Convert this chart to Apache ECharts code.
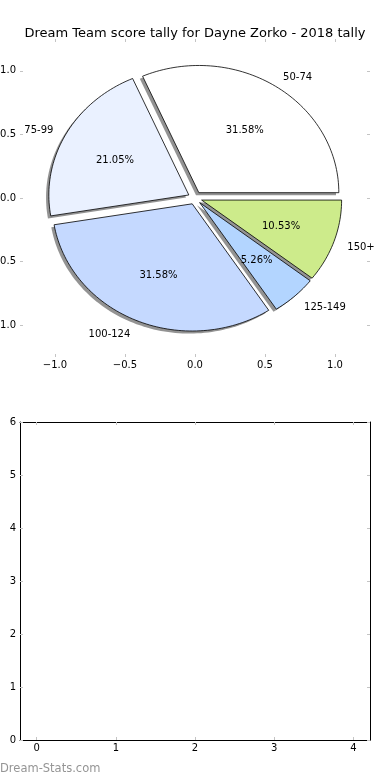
<!DOCTYPE html>
<html>
<head>
<meta charset="utf-8">
<script src="https://cdn.jsdelivr.net/npm/echarts@6/dist/echarts.min.js"></script>
<style>
html,body{margin:0;padding:0;background:#fff;}
#main{width:390px;height:780px;}
</style>
</head>
<body>
<div id="main"></div>
<script>
// ---- data ----
const titleText = 'Dream Team score tally for Dayne Zorko - 2018 tally';
const categories = ['50-74', '75-99', '100-124', '125-149', '150+'];
const counts = [6, 4, 6, 1, 2];
const pieTicks = [-1.0, -0.5, 0.0, 0.5, 1.0];
const emptyXTicks = [0, 1, 2, 3, 4];
const watermark = 'Dream-Stats.com';

// ---- style ----
const sliceColors = ['#ffffff', '#eaf1ff', '#c5d9ff', '#b3d5ff', '#cdeb8b'];
const explodeDist = 0.05;
const shadowOffset = [-0.02, -0.02];
const FONT = 'DejaVu Sans';
const tickGray = '#c4c4c4';
const textNudge = 2;

const total = counts.reduce((a, b) => a + b, 0);
const cum = [0];
counts.forEach((c, i) => cum.push(cum[i] + c));

function fmtTick(v) {
  const s = Number(v).toFixed(1);
  return s.replace('-', '\u2212');
}

function wedgeGeom(i) {
  const a0 = cum[i] / total * 2 * Math.PI;
  const a1 = cum[i + 1] / total * 2 * Math.PI;
  const mid = (a0 + a1) / 2;
  const cx = explodeDist * Math.cos(mid);
  const cy = explodeDist * Math.sin(mid);
  return { a0, a1, mid, cx, cy };
}

function wedgePoints(i, ox, oy, api) {
  const g = wedgeGeom(i);
  const cx = g.cx + ox, cy = g.cy + oy;
  const pts = [api.coord([cx, cy])];
  const n = Math.max(4, Math.ceil((g.a1 - g.a0) / (2 * Math.PI) * 240));
  for (let k = 0; k <= n; k++) {
    const a = g.a0 + (g.a1 - g.a0) * k / n;
    pts.push(api.coord([cx + Math.cos(a), cy + Math.sin(a)]));
  }
  return pts;
}

const pieData = categories.map((c, i) => [i, counts[i]]);

const chart = echarts.init(document.getElementById('main'), null, { renderer: 'canvas' });

function hiddenLine() {
  return { show: false, onZero: false };
}
function tick(vals) {
  const t = { show: true, inside: true, length: 3, lineStyle: { color: tickGray, width: 1 } };
  if (vals) t.customValues = vals;
  return t;
}
const frameLine = { show: true, onZero: false, lineStyle: { color: '#000', width: 1 } };
const labelFont = { fontFamily: FONT, fontSize: 10, color: '#000' };

const option = {
  animation: false,
  backgroundColor: '#ffffff',
  title: {
    text: titleText,
    left: 'center',
    top: 22,
    textStyle: { fontFamily: FONT, fontSize: 13, fontWeight: 'normal', color: '#000' }
  },
  grid: [
    { left: 20, right: 20, top: 39, height: 318, containLabel: false, outerBoundsMode: 'none' },
    { left: 20, right: 20, top: 422, bottom: 40, containLabel: false, outerBoundsMode: 'none' }
  ],
  xAxis: [
    {
      type: 'value', gridIndex: 0, position: 'bottom', min: -1.25, max: 1.25,
      axisLine: hiddenLine(), splitLine: { show: false }, axisTick: tick(pieTicks),
      axisLabel: Object.assign({ show: true, customValues: pieTicks, margin: 3, formatter: fmtTick }, labelFont)
    },
    {
      type: 'value', gridIndex: 0, position: 'top', min: -1.25, max: 1.25,
      axisLine: hiddenLine(), splitLine: { show: false }, axisTick: tick(pieTicks),
      axisLabel: { show: false }
    },
    {
      type: 'value', gridIndex: 1, position: 'bottom', min: -0.21, max: 4.21,
      axisLine: frameLine, splitLine: { show: false }, axisTick: tick(emptyXTicks),
      axisLabel: Object.assign({ show: true, customValues: emptyXTicks, margin: 3 }, labelFont)
    },
    {
      type: 'value', gridIndex: 1, position: 'top', min: -0.21, max: 4.21,
      axisLine: frameLine, splitLine: { show: false }, axisTick: tick(emptyXTicks),
      axisLabel: { show: false }
    }
  ],
  yAxis: [
    {
      type: 'value', gridIndex: 0, position: 'left', min: -1.25, max: 1.25,
      axisLine: hiddenLine(), splitLine: { show: false }, axisTick: tick(pieTicks),
      axisLabel: Object.assign({ show: true, customValues: pieTicks, margin: 4, formatter: fmtTick }, labelFont)
    },
    {
      type: 'value', gridIndex: 0, position: 'right', min: -1.25, max: 1.25,
      axisLine: hiddenLine(), splitLine: { show: false }, axisTick: tick(pieTicks),
      axisLabel: { show: false }
    },
    {
      type: 'value', gridIndex: 1, position: 'left', min: 0, max: 6, interval: 1,
      axisLine: frameLine, splitLine: { show: false }, axisTick: tick(),
      axisLabel: Object.assign({ show: true, margin: 4 }, labelFont)
    },
    {
      type: 'value', gridIndex: 1, position: 'right', min: 0, max: 6, interval: 1,
      axisLine: frameLine, splitLine: { show: false }, axisTick: tick(),
      axisLabel: { show: false }
    }
  ],
  series: [
    {
      type: 'custom',
      name: 'shadow',
      xAxisIndex: 0, yAxisIndex: 0,
      clip: false,
      z: 1,
      data: pieData,
      renderItem: function (params, api) {
        const i = api.value(0);
        return {
          type: 'polygon',
          shape: { points: wedgePoints(i, shadowOffset[0], shadowOffset[1], api) },
          style: { fill: 'rgba(40,40,40,0.5)', stroke: null }
        };
      }
    },
    {
      type: 'custom',
      name: 'wedges',
      xAxisIndex: 0, yAxisIndex: 0,
      clip: false,
      z: 2,
      data: pieData,
      renderItem: function (params, api) {
        const i = api.value(0);
        return {
          type: 'polygon',
          shape: { points: wedgePoints(i, 0, 0, api) },
          style: { fill: sliceColors[i], stroke: '#000', lineWidth: 0.8, lineJoin: 'miter' }
        };
      }
    },
    {
      type: 'custom',
      name: 'labels',
      xAxisIndex: 0, yAxisIndex: 0,
      clip: false,
      z: 3,
      data: pieData,
      renderItem: function (params, api) {
        const i = api.value(0);
        const g = wedgeGeom(i);
        const lx = g.cx + 1.1 * Math.cos(g.mid);
        const ly = g.cy + 1.1 * Math.sin(g.mid);
        const px = g.cx + 0.6 * Math.cos(g.mid);
        const py = g.cy + 0.6 * Math.sin(g.mid);
        const lp = api.coord([lx, ly]);
        const pp = api.coord([px, py]);
        const pct = (api.value(1) / total * 100).toFixed(2) + '%';
        return {
          type: 'group',
          children: [
            {
              type: 'text', x: lp[0], y: lp[1] + textNudge,
              style: { text: categories[i], fill: '#000', font: '10px "' + FONT + '"',
                align: lx > 0 ? 'left' : 'right', verticalAlign: 'middle' }
            },
            {
              type: 'text', x: pp[0], y: pp[1] + textNudge,
              style: { text: pct, fill: '#000', font: '10px "' + FONT + '"',
                align: 'center', verticalAlign: 'middle' }
            }
          ]
        };
      }
    }
  ],
  graphic: [
    {
      type: 'text', left: 0, top: 763,
      style: { text: watermark, fill: '#959595', font: '11.5px "' + FONT + '"' }
    }
  ]
};

chart.setOption(option);
</script>
</body>
</html>
